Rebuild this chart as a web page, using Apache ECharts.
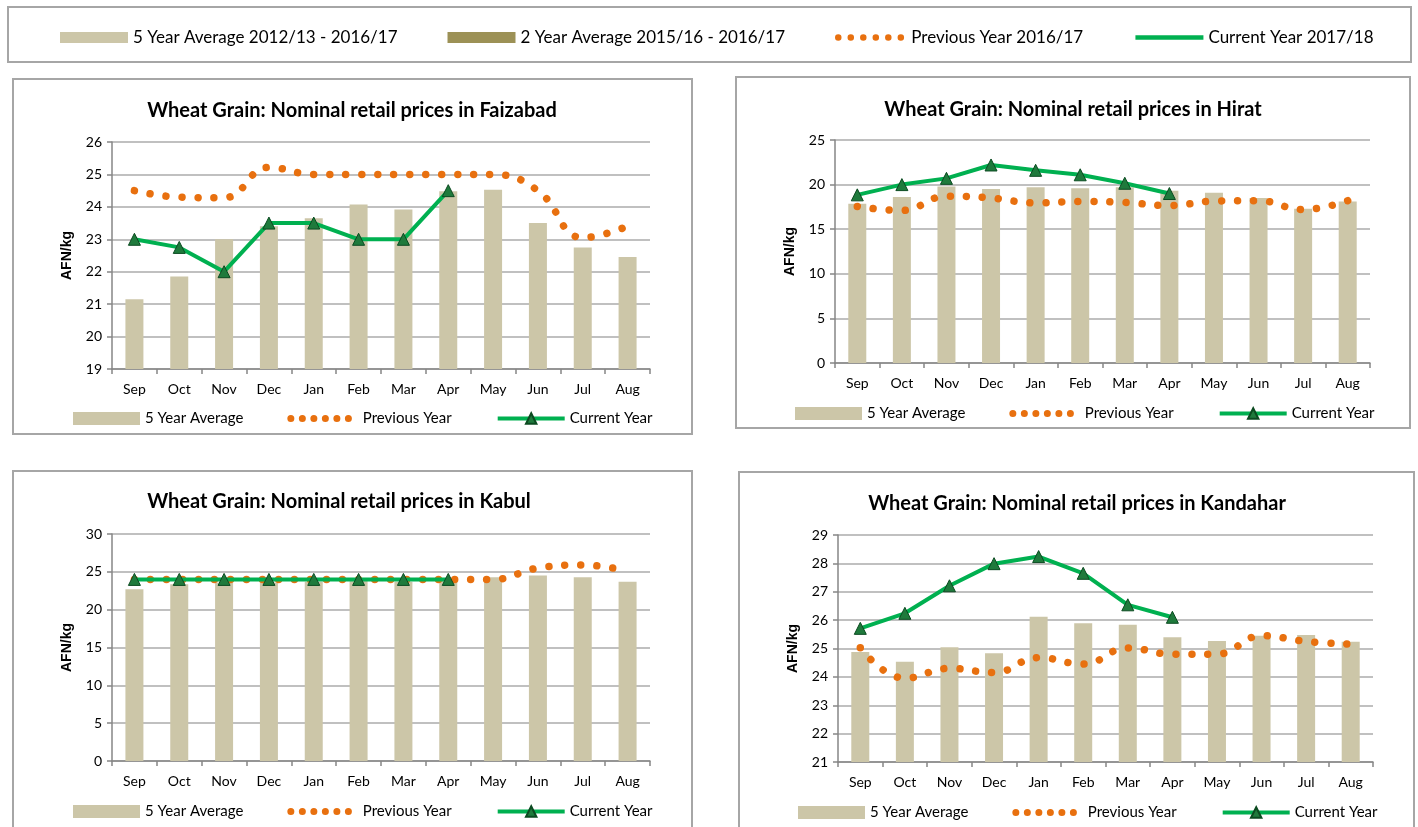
<!DOCTYPE html>
<html>
<head>
<meta charset="utf-8">
<title>Wheat Grain: Nominal retail prices</title>
<script src="https://cdn.jsdelivr.net/npm/echarts@6/dist/echarts.min.js"></script>
<style>
  html, body { margin: 0; padding: 0; background: #fff; }
  #chart { width: 1418px; height: 827px; }
</style>
</head>
<body>
<div id="chart"></div>
<script>
  var months = ['Sep', 'Oct', 'Nov', 'Dec', 'Jan', 'Feb', 'Mar', 'Apr', 'May', 'Jun', 'Jul', 'Aug'];

  // Faizabad
  var faizabadFiveYear = [21.15, 21.85, 23.0, 23.4, 23.65, 24.07, 23.92, 24.48, 24.53, 23.5, 22.75, 22.45];
  var faizabadPrevious = [24.5, 24.3, 24.28, 25.22, 25.0, 25.0, 25.0, 25.0, 25.0, 24.5, 23.05, 23.4];
  var faizabadCurrent = [23.0, 22.75, 22.0, 23.5, 23.5, 23.0, 23.0, 24.5];

  // Hirat
  var hiratFiveYear = [17.85, 18.6, 19.8, 19.5, 19.7, 19.6, 19.7, 19.3, 19.1, 18.5, 17.3, 18.1];
  var hiratPrevious = [17.55, 17.1, 18.7, 18.5, 17.95, 18.1, 18.0, 17.65, 18.15, 18.2, 17.2, 18.2];
  var hiratCurrent = [18.85, 20.0, 20.7, 22.2, 21.6, 21.1, 20.15, 19.0];

  // Kabul
  var kabulFiveYear = [22.7, 23.35, 23.6, 23.6, 23.7, 23.8, 23.7, 23.9, 24.3, 24.5, 24.3, 23.7];
  var kabulPrevious = [24.0, 24.0, 24.0, 24.0, 24.0, 24.0, 24.0, 24.0, 24.0, 25.5, 25.9, 25.1];
  var kabulCurrent = [24.0, 24.0, 24.0, 24.0, 24.0, 24.0, 24.0, 24.0];

  // Kandahar
  var kandaharFiveYear = [24.88, 24.53, 25.04, 24.83, 26.12, 25.89, 25.84, 25.4, 25.26, 25.45, 25.48, 25.24];
  var kandaharPrevious = [25.03, 23.95, 24.3, 24.15, 24.68, 24.45, 25.02, 24.8, 24.8, 25.45, 25.25, 25.15];
  var kandaharCurrent = [25.71, 26.24, 27.21, 27.99, 28.24, 27.65, 26.54, 26.1];

  var seriesNames = ['5 Year Average', 'Previous Year', 'Current Year'];
  var topLegendNames = ['5 Year Average 2012/13 - 2016/17', '2 Year Average 2015/16 - 2016/17',
    'Previous Year 2016/17', 'Current Year 2017/18'];

  var FONT = 'Lato, "Open Sans", sans-serif';
  var BAR = '#CCC6A8';
  var BAR2 = '#9C9156';
  var ORANGE = '#E8700F';
  var GREEN = '#00B050';
  var GRID_GREY = '#ABABAB';

  var panels = [
    { title: 'Wheat Grain: Nominal retail prices in Faizabad', min: 19, max: 26, interval: 1,
      five: faizabadFiveYear, prev: faizabadPrevious, cur: faizabadCurrent,
      grid: { left: 112, top: 142, width: 538, height: 227 },
      box: [13, 79, 679, 355], titleX: 352, titleY: 101, legendX: 73, legendY: 411 },
    { title: 'Wheat Grain: Nominal retail prices in Hirat', min: 0, max: 25, interval: 5,
      five: hiratFiveYear, prev: hiratPrevious, cur: hiratCurrent,
      grid: { left: 835, top: 140, width: 535, height: 223 },
      box: [736, 77, 674, 351], titleX: 1073, titleY: 100, legendX: 795, legendY: 406 },
    { title: 'Wheat Grain: Nominal retail prices in Kabul', min: 0, max: 30, interval: 5,
      five: kabulFiveYear, prev: kabulPrevious, cur: kabulCurrent,
      grid: { left: 112, top: 534, width: 538, height: 227 },
      box: [13, 471, 679, 400], titleX: 339, titleY: 492, legendX: 73, legendY: 804 },
    { title: 'Wheat Grain: Nominal retail prices in Kandahar', min: 21, max: 29, interval: 1,
      five: kandaharFiveYear, prev: kandaharPrevious, cur: kandaharCurrent,
      grid: { left: 838, top: 535, width: 535, height: 227 },
      box: [739, 472, 675, 400], titleX: 1077, titleY: 494, legendX: 798, legendY: 805 }
  ];

  var myChart = echarts.init(document.getElementById('chart'), null, { renderer: 'canvas' });

  var dotStyle = { color: ORANGE, width: 7.5, type: [0.01, 16], cap: 'round' };
  var hideSymbol = { opacity: 0 };

  var grids = [], xAxes = [], yAxes = [], series = [], titles = [], legends = [], graphics = [];

  panels.forEach(function (p, i) {
    grids.push(p.grid);
    titles.push({
      text: p.title, left: p.titleX, top: p.titleY, textAlign: 'center', padding: 0,
      textStyle: { fontFamily: FONT, fontSize: 20, fontWeight: 'bold', color: '#000' }
    });
    xAxes.push({
      type: 'category', gridIndex: i, data: months,
      axisLine: { lineStyle: { color: '#868686', width: 1.5 } },
      axisTick: { show: true, length: 5, lineStyle: { color: '#868686', width: 1.5 } },
      axisLabel: { color: '#000', fontFamily: FONT, fontSize: 14, margin: 13 }
    });
    yAxes.push({
      type: 'value', gridIndex: i, min: p.min, max: p.max, interval: p.interval,
      name: 'AFN/kg', nameLocation: 'middle', nameGap: 38, nameRotate: 90,
      nameTextStyle: { fontFamily: 'Liberation Sans, Arial, sans-serif', fontWeight: 'bold', fontSize: 14, color: '#000' },
      axisLine: { show: true, lineStyle: { color: '#868686', width: 1.5 } },
      axisTick: { show: true, length: 5, lineStyle: { color: '#868686', width: 1.5 } },
      axisLabel: { color: '#000', fontFamily: FONT, fontSize: 14, margin: 10 },
      splitLine: { lineStyle: { color: GRID_GREY, width: 1.5 } }
    });
    series.push({
      name: seriesNames[0], type: 'bar', xAxisIndex: i, yAxisIndex: i,
      data: p.five, barWidth: 18, itemStyle: { color: BAR }, z: 1
    });
    series.push({
      name: seriesNames[1], type: 'line', xAxisIndex: i, yAxisIndex: i,
      data: p.prev, smooth: 0.45, showSymbol: false, symbol: 'none',
      lineStyle: dotStyle, itemStyle: { color: ORANGE }, z: 2
    });
    series.push({
      name: seriesNames[2], type: 'line', xAxisIndex: i, yAxisIndex: i,
      data: p.cur, symbol: 'triangle', symbolSize: 12,
      lineStyle: { color: GREEN, width: 4 },
      itemStyle: { color: '#1F7A3C', borderColor: '#0B4A20', borderWidth: 1 }, z: 3
    });
    legends.push({
      data: [
        { name: seriesNames[0], icon: 'rect' },
        { name: seriesNames[1], itemStyle: hideSymbol,
          lineStyle: { color: ORANGE, width: 7, type: [0.01, 11.5], cap: 'round' } },
        { name: seriesNames[2], lineStyle: { color: GREEN, width: 4 } }
      ],
      left: p.legendX, top: p.legendY,
      itemWidth: 67, itemHeight: 13, itemGap: 44, padding: 0, selectedMode: false,
      textStyle: { fontFamily: FONT, fontSize: 15, color: '#000' }
    });
    graphics.push({
      type: 'rect', shape: { x: p.box[0], y: p.box[1], width: p.box[2], height: p.box[3] },
      style: { fill: null, stroke: '#A6A6A6', lineWidth: 2 }, silent: true, z: -10
    });
  });

  // hidden grid that only carries the series of the top legend
  grids.push({ left: -500, top: -500, width: 10, height: 10 });
  xAxes.push({ type: 'category', gridIndex: 4, show: false, data: months });
  yAxes.push({ type: 'value', gridIndex: 4, show: false });
  series.push({ name: topLegendNames[0], type: 'bar', xAxisIndex: 4, yAxisIndex: 4, data: [], itemStyle: { color: BAR } });
  series.push({ name: topLegendNames[1], type: 'bar', xAxisIndex: 4, yAxisIndex: 4, data: [], itemStyle: { color: BAR2 } });
  series.push({ name: topLegendNames[2], type: 'line', xAxisIndex: 4, yAxisIndex: 4, data: [], symbol: 'none',
    lineStyle: { color: ORANGE, width: 6.5 }, itemStyle: { color: ORANGE } });
  series.push({ name: topLegendNames[3], type: 'line', xAxisIndex: 4, yAxisIndex: 4, data: [], symbol: 'none',
    lineStyle: { color: GREEN, width: 4 }, itemStyle: { color: GREEN } });
  legends.push({
    data: [
      { name: topLegendNames[0], icon: 'rect' },
      { name: topLegendNames[1], icon: 'rect' },
      { name: topLegendNames[2], itemStyle: hideSymbol,
        lineStyle: { color: ORANGE, width: 6.5, type: [0.01, 12.5], cap: 'round' } },
      { name: topLegendNames[3], itemStyle: hideSymbol, lineStyle: { color: GREEN, width: 4.5 } }
    ],
    left: 60, top: 29, itemWidth: 68, itemHeight: 11, itemGap: 50, padding: 0,
    selectedMode: false, textStyle: { fontFamily: FONT, fontSize: 17, color: '#000' }
  });
  graphics.push({
    type: 'rect', shape: { x: 8, y: 7, width: 1403, height: 55 },
    style: { fill: null, stroke: '#A6A6A6', lineWidth: 2 }, silent: true, z: -10
  });

  var option = {
    backgroundColor: '#fff',
    animation: false,
    title: titles,
    legend: legends,
    grid: grids,
    xAxis: xAxes,
    yAxis: yAxes,
    series: series,
    graphic: graphics
  };

  myChart.setOption(option);
  window.addEventListener('resize', myChart.resize);
</script>
</body>
</html>
